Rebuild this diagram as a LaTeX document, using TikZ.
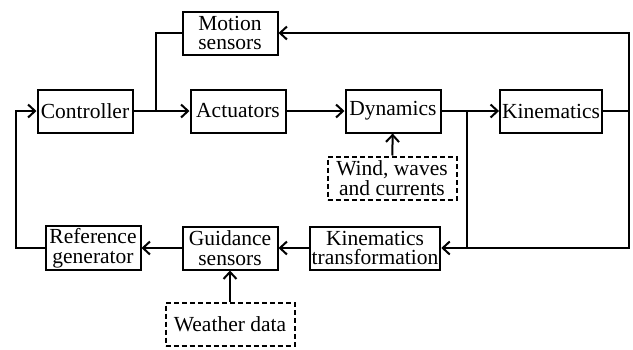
\documentclass[tikz,border=0pt]{standalone}
\usepackage{fontspec}
\setmainfont{Liberation Serif}
\usetikzlibrary{arrows.meta}

\tikzstyle{block} = [rectangle, minimum width=95pt, minimum height=43pt, inner sep=2pt, text centered, align=center, draw=black, line width=2pt, font=\fontsize{21.5}{19.5}\selectfont]
\tikzstyle{disturb} = [block, dash pattern=on 5pt off 3pt, minimum width=129pt]
\tikzstyle{arrow} = [line width=2pt,->,>={Straight Barb[length=7pt,width=13pt,line width=2pt]}]
\tikzstyle{line} = [line width=2pt]

\begin{document}
\begin{tikzpicture}[x=1pt, y=1pt, node distance=155pt]
        \useasboundingbox (0,0) rectangle (633,-349);
        \node (Controller) [block] at (85,-111) {Controller};
        \node (Actuators) [block, right of = Controller, xshift = -2pt] {Actuators};
        \node (Dynamics) [block, right of = Actuators] {Dynamics};
        \node (Kinematics) [block, right of = Dynamics, xshift = 3pt] {Kinematics};
        \node (Motion Sensors) [block, above of = Actuators, yshift = -77pt, xshift = -8pt] {Motion\\sensors};
        \node (Wind) [disturb] at (392,-178) {Wind, waves\\and currents};
        \node (Kinematics Transformation) [block, minimum width=129pt] at (375,-248) {Kinematics\\transformation};
        \node (Guidance Sensors) [block, left of = Kinematics Transformation, xshift = 10pt] {Guidance\\sensors};
        \node (Reference Generator) [block, left of = Guidance Sensors, xshift = 18pt] {Reference\\generator};
        \node (Weather) [disturb, below of = Guidance Sensors, yshift = 79pt] {Weather data};

        \coordinate (Split Controller) at (156,-111);
        \coordinate (Split Dynamics) at (467,-111);
        \coordinate (Right Corner) at (629,-111);
        \coordinate (Left Corner) at (16,-248);

        \draw [arrow] (Controller) -- (Actuators);
        \draw [line] (Split Controller) |- (Motion Sensors);
        \draw [arrow] (Actuators) -- (Dynamics);
        \draw [arrow] (Dynamics) -- (Kinematics);
        \draw [arrow] (Wind) -- (Dynamics);
        \draw [line] (Kinematics) -- (Right Corner);
        \draw [arrow] (Right Corner) |- (Motion Sensors);
        \draw [line] (Right Corner) |- (Split Dynamics |- Kinematics Transformation);
        \draw [arrow] (Split Dynamics) |- (Kinematics Transformation);
        \draw [arrow] (Kinematics Transformation) -- (Guidance Sensors);
        \draw [arrow] (Weather) -- (Guidance Sensors);
        \draw [arrow] (Guidance Sensors) -- (Reference Generator);
        \draw [arrow] (Reference Generator) -- (Left Corner) |- (Controller);
    \end{tikzpicture}
\end{document}
